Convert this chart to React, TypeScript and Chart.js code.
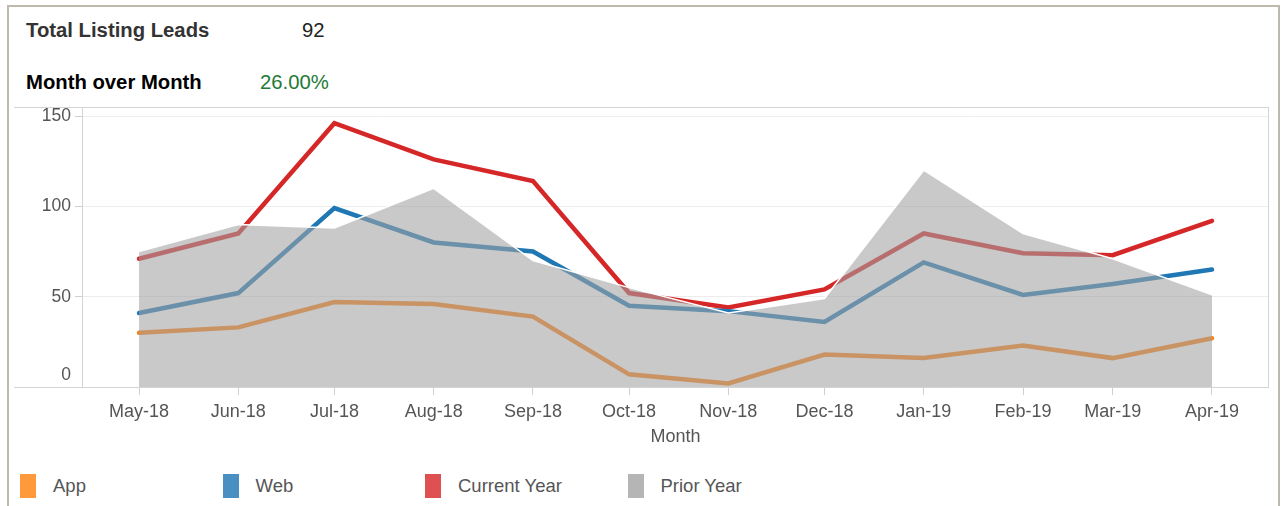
import React, { useEffect, useRef } from "react";
import { Chart, registerables } from "chart.js";

Chart.register(...registerables);

const months = ["May-18", "Jun-18", "Jul-18", "Aug-18", "Sep-18", "Oct-18", "Nov-18", "Dec-18", "Jan-19", "Feb-19", "Mar-19", "Apr-19"];
const monthStarts = ["2018-05-01", "2018-06-01", "2018-07-01", "2018-08-01", "2018-09-01", "2018-10-01", "2018-11-01", "2018-12-01", "2019-01-01", "2019-02-01", "2019-03-01", "2019-04-01"];
const appLeads = [30, 33, 47, 46, 39, 7, 2, 18, 16, 23, 16, 27];
const webLeads = [41, 52, 99, 80, 75, 45, 42, 36, 69, 51, 57, 65];
const currentYear = [71, 85, 146, 126, 114, 52, 44, 54, 85, 74, 73, 92];
const priorYear = [75, 90, 88, 110, 70, 55, 41, 49, 120, 85, 71, 51];
const yTicks = [0, 50, 100, 150];

const legendItems = [
  { label: "App", color: "#ff9a3c" },
  { label: "Web", color: "#4a8fc2" },
  { label: "Current Year", color: "#de5052" },
  { label: "Prior Year", color: "#b5b5b5" },
];

const FONT = "'Liberation Sans', Arial, sans-serif";

const dayOffset = (s: string) => {
  const [y, m, d] = s.split("-").map(Number);
  const [y0, m0, d0] = monthStarts[0].split("-").map(Number);
  return (Date.UTC(y, m - 1, d) - Date.UTC(y0, m0 - 1, d0)) / 86400000;
};
const xs = monthStarts.map(dayOffset);
const pts = (vals: number[]) => vals.map((v, i) => ({ x: xs[i], y: v }));

const framePlugin = {
  id: "frame",
  beforeDatasetsDraw(chart: any) {
    const { ctx, chartArea } = chart;
    ctx.save();
    ctx.strokeStyle = "#d4d4d4";
    ctx.lineWidth = 1;
    ctx.beginPath();
    ctx.moveTo(14, chartArea.top + 0.5);
    ctx.lineTo(chartArea.right, chartArea.top + 0.5);
    ctx.moveTo(14, chartArea.bottom + 0.5);
    ctx.lineTo(chartArea.right, chartArea.bottom + 0.5);
    ctx.moveTo(chartArea.right - 0.5, chartArea.top);
    ctx.lineTo(chartArea.right - 0.5, chartArea.bottom);
    ctx.stroke();
    ctx.restore();
  },
  afterDraw(chart: any) {
    const { ctx, chartArea } = chart;
    const y = chart.scales.y;
    ctx.save();
    ctx.font = `17.5px ${FONT}`;
    ctx.fillStyle = "#555555";
    ctx.textAlign = "right";
    ctx.textBaseline = "middle";
    yTicks.forEach((t) => {
      const py = Math.min(y.getPixelForValue(t), chartArea.bottom - 12);
      ctx.fillText(String(t), chartArea.left - 11, py);
    });
    ctx.restore();
  },
};

function LeadsChart() {
  const ref = useRef<HTMLCanvasElement>(null);
  useEffect(() => {
    if (!ref.current) return;
    const lineDs = (label: string, data: number[], color: string) => ({
      type: "line" as const,
      label,
      data: pts(data),
      borderColor: color,
      backgroundColor: color,
      borderWidth: 4.5,
      borderCapStyle: "round" as const,
      pointRadius: 0,
      fill: false,
      tension: 0,
      order: 1,
    });
    const chart = new Chart(ref.current, {
      type: "line",
      data: {
        datasets: [
          lineDs("App", appLeads, "#ff7f0e"),
          lineDs("Web", webLeads, "#1f77b4"),
          lineDs("Current Year", currentYear, "#d62728"),
          {
            type: "line",
            label: "Prior Year",
            data: pts(priorYear),
            borderColor: "#ffffff",
            borderWidth: 1.5,
            backgroundColor: "rgba(162,162,162,0.58)",
            fill: "origin",
            pointRadius: 0,
            tension: 0,
            order: 0,
          },
        ],
      },
      options: {
        responsive: false,
        animation: false,
        devicePixelRatio: 1,
        layout: { padding: { left: 14, top: 107, right: 15, bottom: 12 } },
        plugins: { legend: { display: false }, tooltip: { enabled: false } },
        scales: {
          x: {
            type: "linear",
            min: -17.8,
            max: 352.8,
            afterBuildTicks: (scale: any) => {
              scale.ticks = xs.map((v) => ({ value: v }));
            },
            afterFit: (scale: any) => {
              scale.height = 61;
            },
            ticks: {
              autoSkip: false,
              maxRotation: 0,
              padding: 6,
              color: "#555555",
              font: { family: FONT, size: 18 },
              callback: (_v: any, i: number) => months[i],
            },
            grid: { drawOnChartArea: false, drawTicks: true, tickLength: 8, tickColor: "#cfcfcf" },
            border: { display: false },
            title: { display: true, text: "Month", color: "#555555", font: { family: FONT, size: 18 }, padding: 0 },
          },
          y: {
            type: "linear",
            min: 0,
            max: 155,
            afterBuildTicks: (scale: any) => {
              scale.ticks = yTicks.map((v) => ({ value: v }));
            },
            afterFit: (scale: any) => {
              scale.width = 68;
            },
            ticks: { display: false },
            grid: { color: "#ececec", drawTicks: true, tickLength: 7, tickColor: "#cfcfcf" },
            border: { display: true, color: "#d4d4d4" },
          },
        },
      },
      plugins: [framePlugin],
    } as any);
    return () => chart.destroy();
  }, []);
  return <canvas ref={ref} width={1284} height={460} style={{ position: "absolute", left: 0, top: 0 }} />;
}

export default function App() {
  useEffect(() => {
    document.body.style.margin = "0";
  }, []);
  const txt: React.CSSProperties = { position: "absolute", fontFamily: FONT, fontSize: 20.3, lineHeight: "20px", whiteSpace: "nowrap" };
  return (
    <div style={{ position: "relative", width: 1284, height: 506, background: "#fff", overflow: "hidden" }}>
      <div style={{ position: "absolute", left: 7, top: 5, width: 1269, height: 520, borderLeft: "2px solid #bdb9ad", borderTop: "2px solid #bdb9ad", borderRight: "2px solid #bdb9ad" }} />
      <div style={{ ...txt, left: 26, top: 20, fontWeight: "bold", color: "#333333" }}>Total Listing Leads</div>
      <div style={{ ...txt, left: 302, top: 20, color: "#222222" }}>92</div>
      <div style={{ ...txt, left: 26, top: 72, fontWeight: "bold", color: "#000000" }}>Month over Month</div>
      <div style={{ ...txt, left: 260, top: 72, color: "#1e7a36" }}>26.00%</div>
      <LeadsChart />
      {legendItems.map((it, i) => (
        <div key={it.label} style={{ position: "absolute", left: 20 + i * 202.5, top: 474, height: 24, display: "flex", alignItems: "center" }}>
          <div style={{ width: 16, height: 24, background: it.color }} />
          <span style={{ marginLeft: 17, fontFamily: FONT, fontSize: 18.5, color: "#555555" }}>{it.label}</span>
        </div>
      ))}
    </div>
  );
}
